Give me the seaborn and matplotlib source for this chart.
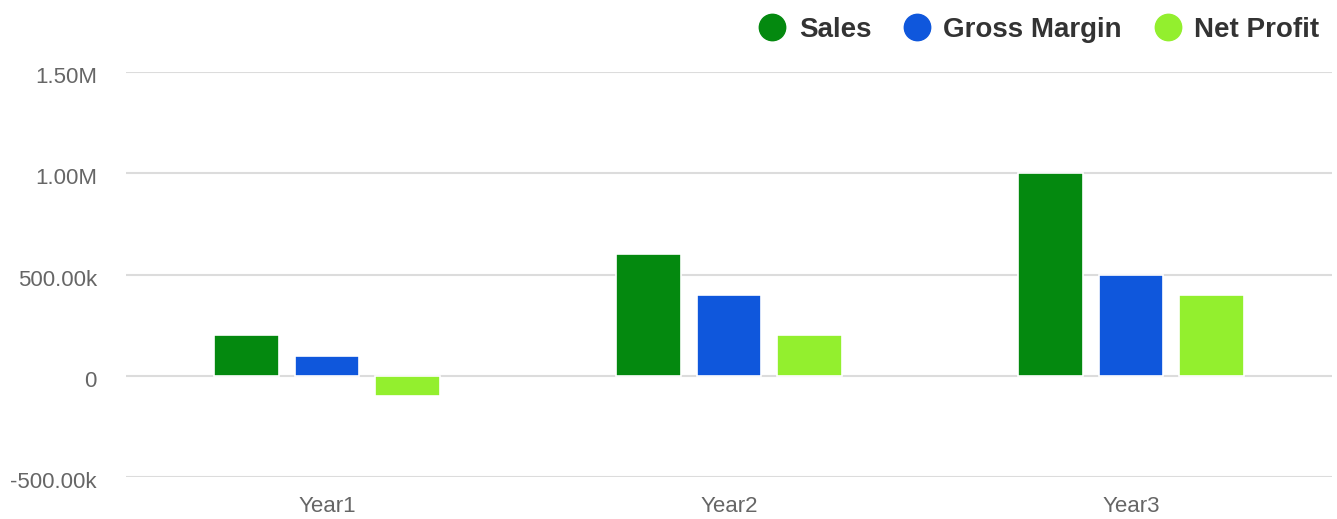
import matplotlib
matplotlib.use("Agg")
import matplotlib.pyplot as plt
from matplotlib.lines import Line2D
from matplotlib.transforms import ScaledTranslation
import seaborn as sns
import pandas as pd

categories = ["Year1", "Year2", "Year3"]
series_names = ["Sales", "Gross Margin", "Net Profit"]
sales = [200000, 600000, 1000000]
gross_margin = [100000, 400000, 500000]
net_profit = [-100000, 200000, 400000]
colors = ["#04890f", "#0f57dc", "#93ef2e"]
y_ticks = [-500000, 0, 500000, 1000000, 1500000]
y_tick_labels = ["-500.00k", "0", "500.00k", "1.00M", "1.50M"]

rows = []
for name, vals in zip(series_names, [sales, gross_margin, net_profit]):
    for c, v in zip(categories, vals):
        rows.append({"Year": c, "Series": name, "Value": v})
df = pd.DataFrame(rows)

sns.set_style("white")
plt.rcParams["font.family"] = ["Liberation Sans", "DejaVu Sans"]

W, H = 1337, 519
fig = plt.figure(figsize=(W / 100, H / 100), dpi=100)
ax = fig.add_axes([126 / W, (H - 477) / H, (1332 - 126) / W, (477 - 72) / H])

sns.barplot(data=df, x="Year", y="Value", hue="Series", order=categories,
            hue_order=series_names, palette=colors, width=0.6, gap=0.2,
            edgecolor="white", linewidth=1.2, saturation=1, ax=ax,
            legend=False, errorbar=None, zorder=3)

ax.set_xlim(-0.5, 2.5)
ax.set_ylim(-500000, 1500000)
ax.set_yticks(y_ticks)
ax.set_yticklabels(y_tick_labels)
ax.yaxis.grid(True, color="#dcdcdc", linewidth=1.5, zorder=0)
ax.set_axisbelow(True)
ax.tick_params(axis="y", length=0, pad=21, labelsize=16, labelcolor="#666666")
ax.tick_params(axis="x", length=0, pad=14, labelsize=16, labelcolor="#666666")
ax.set_xlabel("")
ax.set_ylabel("")
for s in ax.spines.values():
    s.set_visible(False)

off = ScaledTranslation(0, -3 / 100, fig.dpi_scale_trans)
for lbl in ax.get_yticklabels():
    lbl.set_transform(lbl.get_transform() + off)

handles = [Line2D([0], [0], marker="o", linestyle="none", markersize=19,
                  markerfacecolor=c, markeredgecolor=c) for c in colors]
fig.legend(handles, series_names, loc="upper right", ncol=3,
           bbox_to_anchor=(1325 / W, 1 - 11 / H), frameon=False,
           prop={"weight": "bold", "size": 20}, labelcolor="#333333",
           handlelength=1.0, handletextpad=0.45, columnspacing=1.15,
           borderaxespad=0, borderpad=0.2)

fig.savefig("out.png", dpi=100, facecolor="white")
